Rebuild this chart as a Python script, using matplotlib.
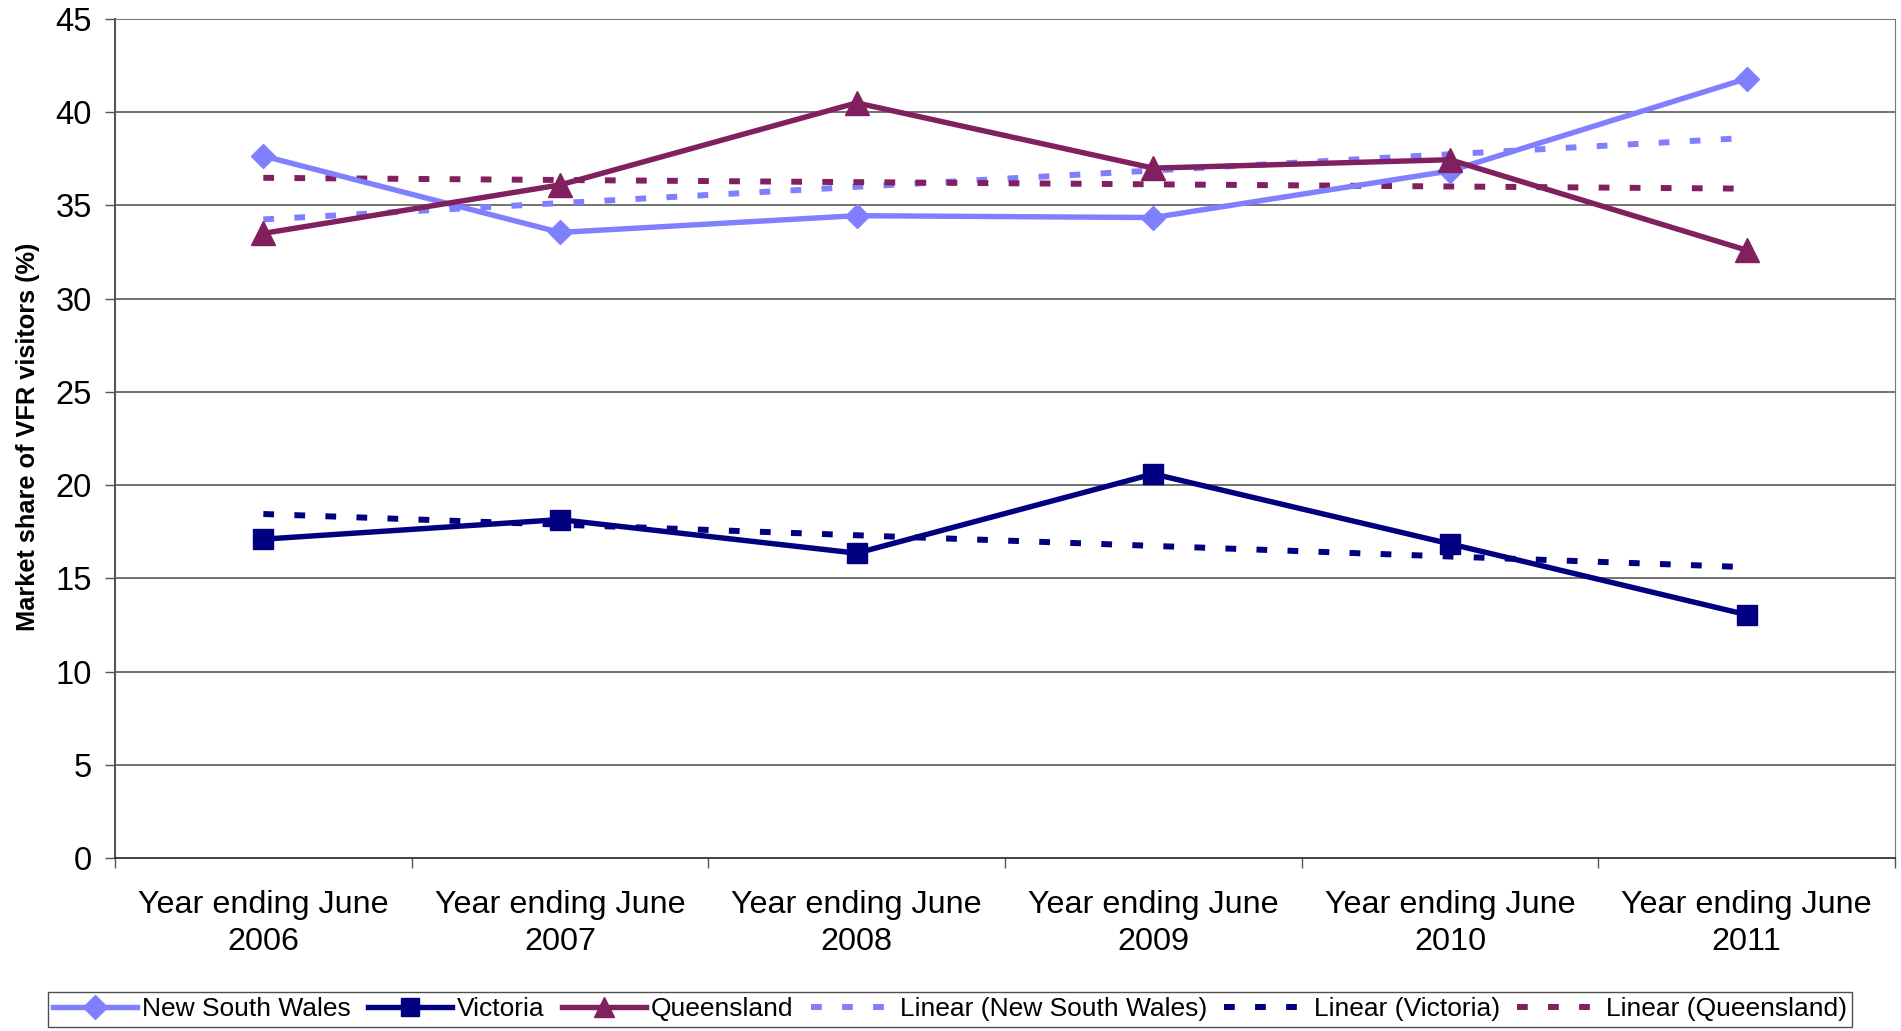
import numpy as np
import matplotlib
matplotlib.use('Agg')
import matplotlib.pyplot as plt
from matplotlib.lines import Line2D

plt.rcParams['font.family'] = ['Liberation Sans', 'DejaVu Sans']

# data
years = ['Year ending June\n2006', 'Year ending June\n2007', 'Year ending June\n2008',
         'Year ending June\n2009', 'Year ending June\n2010', 'Year ending June\n2011']
nsw = [37.65, 33.55, 34.45, 34.35, 36.85, 41.8]
vic = [17.1, 18.15, 16.35, 20.6, 16.85, 13.05]
qld = [33.5, 36.1, 40.5, 37.0, 37.45, 32.6]

# linear trend lines: start (2006) and end (2011) values
nsw_trend = [34.25, 38.62]
vic_trend = [18.45, 15.6]
qld_trend = [36.48, 35.9]

c_nsw = '#8080FF'
c_vic = '#000080'
c_qld = '#80205F'

fig = plt.figure(figsize=(19.01, 10.31), dpi=100)
ax = fig.add_axes([0.0605, 0.1678, 0.9363, 0.8138])

x = np.arange(len(years)) + 0.5

# gridlines under everything
for v in range(5, 50, 5):
    ax.axhline(v, color='#5a5a5a', lw=1.2, zorder=0)

lw_main = 3.9
lw_trend = 4.3
dash = (1.8, 3.4)
ax.plot([x[0], x[-1]], nsw_trend, color=c_nsw, lw=lw_trend, dashes=dash,
        dash_capstyle='butt', zorder=2)
ax.plot([x[0], x[-1]], vic_trend, color=c_vic, lw=lw_trend, dashes=dash,
        dash_capstyle='butt', zorder=2)
ax.plot([x[0], x[-1]], qld_trend, color=c_qld, lw=lw_trend, dashes=dash,
        dash_capstyle='butt', zorder=2)

ax.plot(x, nsw, color=c_nsw, lw=lw_main, marker='D', ms=12, zorder=3)
ax.plot(x, vic, color=c_vic, lw=lw_main, marker='s', ms=15, zorder=3)
ax.plot(x, qld, color=c_qld, lw=lw_main, marker='^', ms=17.5, zorder=3)

ax.set_xlim(0, len(years))
ax.set_ylim(0, 45)
ax.set_yticks(range(0, 50, 5))
ax.set_xticks(x)
ax.set_xticklabels(years, fontsize=23.3, linespacing=1.32)
ax.set_xticks(np.arange(len(years) + 1), minor=True)
ax.tick_params(axis='x', which='major', length=0, pad=23)
ax.tick_params(axis='x', which='minor', length=7.5, width=1, color='#555555')
ax.tick_params(axis='y', labelsize=23.5, length=7.5, width=1, color='#555555', pad=9)

ax.spines['left'].set_color('#555555')
ax.spines['left'].set_linewidth(1.5)
ax.spines['bottom'].set_color('#222222')
ax.spines['bottom'].set_linewidth(1.2)
ax.spines['top'].set_color('#777777')
ax.spines['right'].set_color('#777777')

ax.set_ylabel('Market share of VFR visitors (%)', fontsize=18.3, fontweight='bold')
ax.yaxis.set_label_coords(-0.042, 0.502)

handles = [
    Line2D([], [], color=c_nsw, lw=lw_main, marker='D', ms=12),
    Line2D([], [], color=c_vic, lw=lw_main, marker='s', ms=13),
    Line2D([], [], color=c_qld, lw=lw_main, marker='^', ms=15),
    Line2D([], [], color=c_nsw, lw=lw_trend, dashes=dash, dash_capstyle='butt'),
    Line2D([], [], color=c_vic, lw=lw_trend, dashes=dash, dash_capstyle='butt'),
    Line2D([], [], color=c_qld, lw=lw_trend, dashes=dash, dash_capstyle='butt'),
]
labels = ['New South Wales', 'Victoria', 'Queensland', 'Linear (New South Wales)',
          'Linear (Victoria)', 'Linear (Queensland)']
leg = fig.legend(handles, labels, loc='upper center', bbox_to_anchor=(0.4997, 0.0378),
                 ncol=6, fontsize=19, frameon=True, fancybox=False,
                 edgecolor='#222222', handlelength=3.2, handletextpad=0.18,
                 columnspacing=0.65, borderpad=0.2, borderaxespad=0)
leg.get_frame().set_linewidth(1)

fig.savefig('out.png', dpi=100)
